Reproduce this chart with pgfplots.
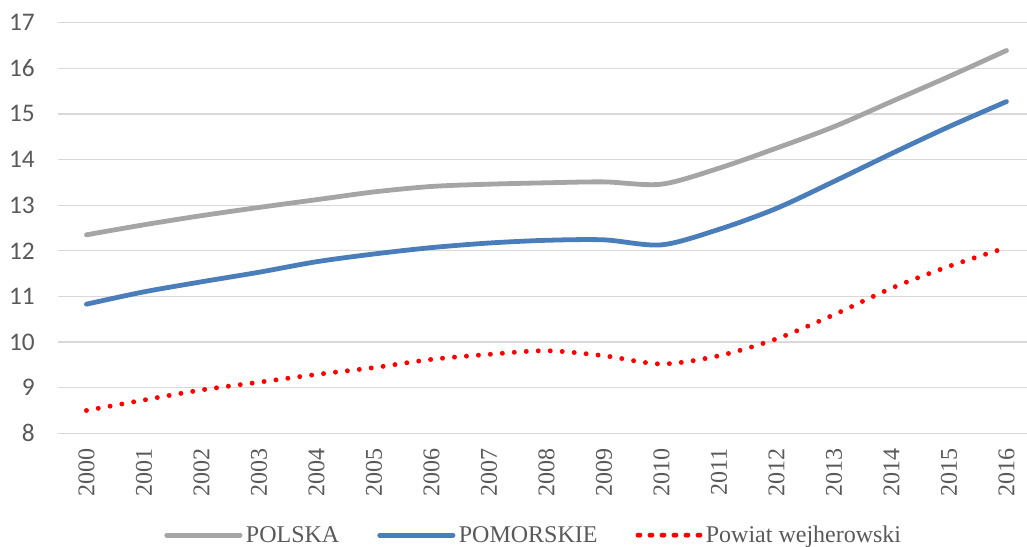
\documentclass[border=0pt]{standalone}
\usepackage{fontspec}
\setmainfont{Liberation Serif}
\newfontfamily\carlito{Carlito}
\usepackage{pgfplots}
\pgfplotsset{compat=1.18}
\definecolor{gridc}{HTML}{D9D9D9}
\definecolor{txt}{HTML}{595959}
\definecolor{pgray}{HTML}{A5A5A5}
\definecolor{pblue}{HTML}{4A7EBB}
\definecolor{pred}{HTML}{FF0000}
\pgfplotsset{dotlegend/.style={legend image code/.code={\draw[##1] (0pt,0pt) -- (45pt,0pt); \path (-1.4pt,0pt) -- (44pt,0pt);}}}
\begin{document}
\begin{tikzpicture}
\begin{axis}[
  at={(0,0)}, anchor=south west,
  scale only axis, width=727pt, height=308pt,
  xmin=-0.5, xmax=16.357, ymin=8, ymax=17,
  axis line style={draw=none},
  tick style={draw=none},
  major tick length=0pt,
  ymajorgrids, grid style={gridc, line width=0.9pt},
  ytick={8,...,17},
  xtick={0,...,16},
  xticklabels={2000,2001,2002,2003,2004,2005,2006,2007,2008,2009,2010,2011,2012,2013,2014,2015,2016},
  /pgf/number format/assume math mode=true,
  yticklabel style={font=\carlito\fontsize{19}{21}\selectfont, text=txt, anchor=east, inner sep=0pt},
  yticklabel shift=17pt,
  xticklabel style={font=\fontsize{18}{20}\selectfont, text=txt, rotate=90, anchor=east, inner sep=0pt},
  xticklabel shift=11pt,
  legend columns=3,
  legend style={at={(0.1056,-0.248)}, anchor=west, draw=none, fill=none,
    font=\fontsize{18}{20}\selectfont, text=txt,
    nodes={inner xsep=0pt},
    /tikz/every odd column/.append style={column sep=2.6pt},
    /tikz/every even column/.append style={column sep=28.5pt}},
  legend image code/.code={\draw[#1] (0pt,0pt) -- (55pt,0pt);},
]
\addplot[pgray, line width=3.6pt, smooth, line cap=round] coordinates {
(0,12.35) (1,12.57) (2,12.77) (3,12.95) (4,13.12) (5,13.29) (6,13.41) (7,13.46)
(8,13.49) (9,13.51) (10,13.46) (11,13.81) (12,14.25) (13,14.72) (14,15.27) (15,15.82) (16,16.39)};
\addlegendentry{POLSKA}
\addplot[pblue, line width=3.6pt, smooth, line cap=round] coordinates {
(0,10.83) (1,11.10) (2,11.32) (3,11.53) (4,11.76) (5,11.93) (6,12.07) (7,12.17)
(8,12.23) (9,12.24) (10,12.13) (11,12.47) (12,12.93) (13,13.52) (14,14.13) (15,14.72) (16,15.27)};
\addlegendentry{POMORSKIE}
\addplot[pred, line width=3.7pt, smooth, line cap=round, dash pattern=on 0pt off 9pt, dotlegend] coordinates {
(0,8.50) (1,8.73) (2,8.95) (3,9.12) (4,9.29) (5,9.44) (6,9.62) (7,9.73)
(8,9.81) (9,9.70) (10,9.52) (11,9.70) (12,10.07) (13,10.60) (14,11.18) (15,11.66) (16,12.07)};
\addlegendentry{Powiat wejherowski}
\end{axis}
\pgfresetboundingbox
\path[use as bounding box] (-43.275pt,-84.525pt) rectangle (726.975pt,324.975pt);
\end{tikzpicture}
\end{document}
